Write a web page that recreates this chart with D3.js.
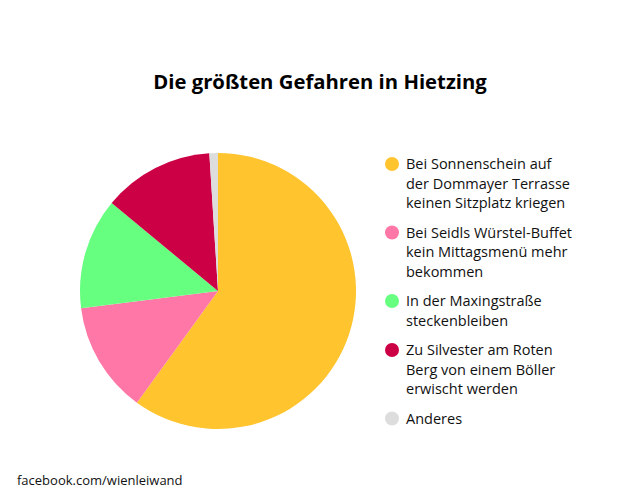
<!DOCTYPE html>
<html><head><meta charset="utf-8">
<script src="https://cdn.jsdelivr.net/npm/d3@7"></script>
<style>body{margin:0;background:#fff}svg{display:block}</style>
</head><body><svg id="c" width="640" height="502"></svg>
<script>
const categories = [
  ["Bei Sonnenschein auf", "der Dommayer Terrasse", "keinen Sitzplatz kriegen"],
  ["Bei Seidls Würstel-Buffet", "kein Mittagsmenü mehr", "bekommen"],
  ["In der Maxingstraße", "steckenbleiben"],
  ["Zu Silvester am Roten", "Berg von einem Böller", "erwischt werden"],
  ["Anderes"]
];
const values = [60, 13, 13, 13, 1];
const colors = ["#FFC42E", "#FF77A6", "#66FF80", "#CC0044", "#DDDDDD"];
const title = "Die größten Gefahren in Hietzing";
const source = "facebook.com/wienleiwand";

const font = "Open Sans, sans-serif";
const svg = d3.select("#c");
svg.append("text").attr("x", 320).attr("y", 89).attr("text-anchor", "middle")
  .attr("font-family", font).attr("font-weight", "bold").attr("font-size", 20.3)
  .attr("fill", "#000").text(title);

const data = values.map((v, i) => ({v, i}));
const pie = d3.pie().value(d => d.v).sort(null);
const arc = d3.arc().innerRadius(0).outerRadius(138);
const g = svg.append("g").attr("transform", "translate(218,291)");
g.selectAll("path").data(pie(data)).join("path")
  .attr("d", arc).attr("fill", d => colors[d.data.i]);

const lineH = 19.5, gap = 10;
let y = 164;
const leg = svg.append("g");
categories.forEach((lines, i) => {
  leg.append("circle").attr("cx", 392).attr("cy", y).attr("r", 7).attr("fill", colors[i]);
  lines.forEach((t, j) => {
    leg.append("text").attr("x", 406).attr("y", y + j * lineH).attr("dy", "0.35em")
      .attr("font-family", font).attr("font-size", 14.5).attr("fill", "#111").text(t);
  });
  y += lines.length * lineH + gap;
});

svg.append("text").attr("x", 17).attr("y", 485).attr("font-family", font)
  .attr("font-size", 13).attr("fill", "#111").text(source);
</script></body></html>
